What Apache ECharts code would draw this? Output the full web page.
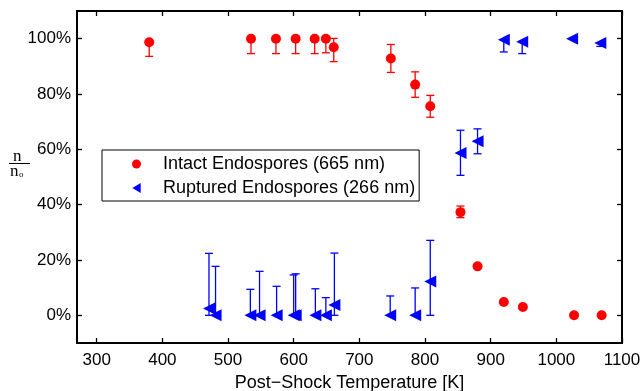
<!DOCTYPE html>
<html>
<head>
<meta charset="utf-8">
<script src="https://cdn.jsdelivr.net/npm/echarts@6/dist/echarts.min.js"></script>
<style>
  html, body { margin: 0; padding: 0; background: #fff; }
  #chart { width: 644px; height: 391px; }
</style>
</head>
<body>
<div id="chart"></div>
<script>
// ---- Data ----
const xTicks = [300, 400, 500, 600, 700, 800, 900, 1000, 1100];
const yTicks = [0, 20, 40, 60, 80, 100];

const intactX  = [380, 535, 573, 603, 632, 649, 661, 748, 785, 808, 854, 880, 920, 949, 1027, 1069];
const intactY  = [98.7, 100, 100, 100, 100, 100, 96.9, 92.8, 83.4, 75.6, 37.3, 17.7, 4.8, 3.0, 0, 0];
const intactLo = [93.6, 94.6, 94.6, 94.6, 94.6, 94.9, 91.7, 87.8, 78.8, 71.6, 35.3, 17.7, 4.8, 3.0, 0, 0];
const intactHi = [98.7, 100, 100, 100, 100, 100, 100.1, 97.9, 88.0, 79.5, 39.5, 17.7, 4.8, 3.0, 0, 0];

const ruptX  = [471, 481, 534, 548, 574, 600, 603, 633, 649, 662, 747, 785, 808, 854, 880, 920, 948, 1024, 1067];
const ruptY  = [2.5, 0, 0, 0, 0, 0, 0, 0, 0, 3.7, 0, 0, 12.2, 58.7, 62.9, 99.6, 98.9, 100, 98.4];
const ruptLo = [0, 0, 0, 0, 0, 0, 0, 0, 0, 0, 0, 0, 0, 50.6, 58.4, 95.2, 94.6, 100, 97.2];
const ruptHi = [22.4, 17.7, 9.4, 15.9, 10.5, 14.6, 15.0, 9.6, 6.4, 22.5, 7.0, 9.9, 27.1, 66.9, 67.4, 99.6, 98.9, 100, 98.4];

const intactName = 'Intact Endospores (665 nm)';
const ruptName = 'Ruptured Endospores (266 nm)';

const RED = '#ff0000';
const BLUE = '#0000ff';

function zip(xs, ys) { return xs.map((x, i) => [x, ys[i]]); }
function errData(xs, ys, lo, hi) { return xs.map((x, i) => [x, ys[i], lo[i], hi[i]]); }

function errRender(color) {
  return function (params, api) {
    const x = api.value(0), y = api.value(1), lo = api.value(2), hi = api.value(3);
    const pl = api.coord([x, lo]);
    const ph = api.coord([x, hi]);
    const cap = 4;
    const style = { stroke: color, lineWidth: 1.3 };
    const children = [];
    if (hi > lo) {
      children.push({ type: 'line', shape: { x1: pl[0], y1: pl[1], x2: ph[0], y2: ph[1] }, style });
    }
    if (lo < y) {
      children.push({ type: 'line', shape: { x1: pl[0] - cap, y1: pl[1], x2: pl[0] + cap, y2: pl[1] }, style });
    }
    if (hi > y) {
      children.push({ type: 'line', shape: { x1: ph[0] - cap, y1: ph[1], x2: ph[0] + cap, y2: ph[1] }, style });
    }
    return { type: 'group', children };
  };
}

const axisLineStyle = { color: '#000', width: 2 };
const FONT = 'Liberation Sans, Arial, Helvetica, sans-serif';

function xAxisDef(pos, showLabel) {
  return {
    type: 'value', position: pos, min: 270, max: 1100,
    axisLine: { show: true, onZero: false, lineStyle: axisLineStyle },
    axisTick: { show: true, inside: true, length: 5, customValues: xTicks, lineStyle: { color: '#000', width: 1.3 } },
    axisLabel: { show: showLabel, customValues: xTicks, color: '#000', fontSize: 17, fontFamily: FONT, margin: 9,
                 formatter: v => String(v) },
    splitLine: { show: false },
    name: showLabel ? 'Post\u2212Shock Temperature [K]' : '',
    nameLocation: 'middle', nameGap: 29,
    nameTextStyle: { color: '#000', fontSize: 18, fontFamily: FONT }
  };
}
function yAxisDef(pos, showLabel) {
  return {
    type: 'value', position: pos, min: -10, max: 110,
    axisLine: { show: true, onZero: false, lineStyle: axisLineStyle },
    axisTick: { show: true, inside: true, length: 5, customValues: yTicks, lineStyle: { color: '#000', width: 1.3 } },
    axisLabel: { show: showLabel, customValues: yTicks, color: '#000', fontSize: 17, fontFamily: FONT, margin: 6,
                 formatter: v => v + '%' },
    splitLine: { show: false }
  };
}

const chart = echarts.init(document.getElementById('chart'), null, { renderer: 'canvas' });
chart.setOption({
  animation: false,
  backgroundColor: '#fff',
  grid: { left: 77, right: 22, top: 11, bottom: 48, containLabel: false, outerBoundsMode: 'none' },
  xAxis: [xAxisDef('bottom', true), xAxisDef('top', false)],
  yAxis: [yAxisDef('left', true), yAxisDef('right', false)],
  legend: {
    orient: 'vertical', left: 102, top: 150,
    backgroundColor: '#fff',
    borderColor: '#000', borderWidth: 1, borderRadius: 0,
    padding: [4, 4, 3, 30],
    itemWidth: 9, itemHeight: 10, itemGap: 4,
    textStyle: { fontSize: 18, fontFamily: FONT, color: '#000', lineHeight: 20, padding: [0, 0, 0, 17] },
    data: [
      { name: intactName, icon: 'circle' },
      { name: ruptName, icon: 'path://M10,0 L0,6 L10,12 Z' }
    ]
  },
  series: [
    { name: intactName + ' err', type: 'custom', renderItem: errRender(RED),
      encode: { x: 0, y: [1, 2, 3] }, data: errData(intactX, intactY, intactLo, intactHi), z: 2, silent: true },
    { name: ruptName + ' err', type: 'custom', renderItem: errRender(BLUE),
      encode: { x: 0, y: [1, 2, 3] }, data: errData(ruptX, ruptY, ruptLo, ruptHi), z: 2, silent: true },
    { name: intactName, type: 'scatter', symbol: 'circle', symbolSize: 10,
      itemStyle: { color: RED, opacity: 1 }, data: zip(intactX, intactY), z: 3 },
    { name: ruptName, type: 'scatter', symbol: 'triangle', symbolSize: [12, 12], symbolRotate: 90,
      itemStyle: { color: BLUE, opacity: 1 }, data: zip(ruptX, ruptY), z: 3 }
  ],
  graphic: [
    { type: 'text', left: 13, top: 148, style: { text: 'n', font: '17px "Liberation Serif", serif', fill: '#000' } },
    { type: 'line', shape: { x1: 9, y1: 163.5, x2: 30, y2: 163.5 }, style: { stroke: '#000', lineWidth: 1 } },
    { type: 'text', left: 10, top: 163, style: { text: 'n', font: '17px "Liberation Serif", serif', fill: '#000' } },
    { type: 'text', left: 19, top: 170, style: { text: 'o', font: '9px "Liberation Serif", serif', fill: '#000' } }
  ]
});
</script>
</body>
</html>
